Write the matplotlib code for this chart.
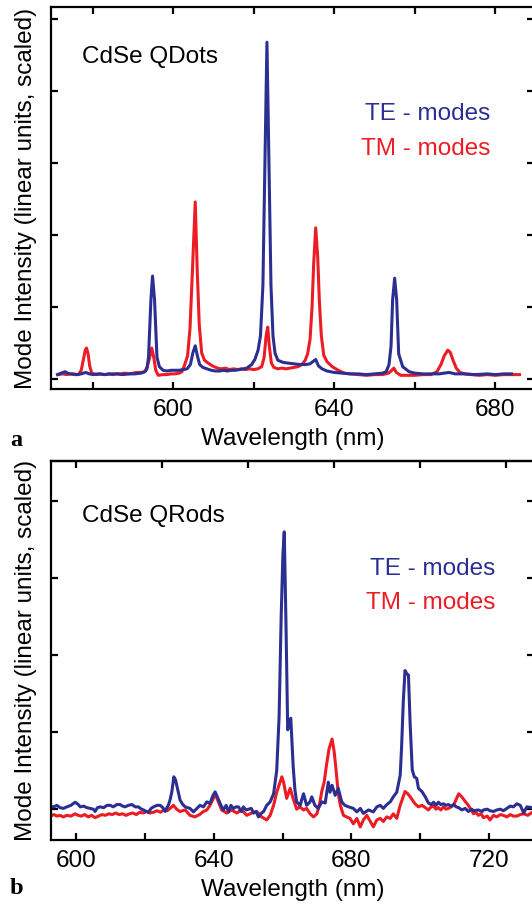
# Whispering-gallery mode spectra of CdSe quantum dots / rods
import matplotlib.pyplot as plt
from matplotlib.ticker import MultipleLocator, NullFormatter

plt.rcParams['font.family'] = ['Liberation Sans', 'DejaVu Sans']

blue = '#2b2f92'
red = '#ec1c24'

# ---- panel a: CdSe QDots ----
qd_te_wl = [571.3, 572.2, 573.2, 574.2, 575.2, 576.2, 577.2, 578.3, 579.2, 580.2, 581.5, 583, 584.5, 586,
            587.5, 589, 590.5, 592, 593.0, 593.5, 593.9, 594.5, 594.9, 595.4, 596.0, 596.6, 597.5, 598.5,
            599.5, 600.5, 601.5, 602.5, 603.5, 604.3, 604.9, 605.5, 606.0, 606.6, 607.4, 608.4, 609.5,
            610.5, 611.5, 612.5, 613.5, 614.5, 615.5, 616.5, 617.5, 618.3, 619.5, 620.3, 621.1, 621.7,
            622.3, 622.8, 623.3, 623.8, 624.3, 624.8, 625.3, 626, 627.3, 628.5, 630, 631.5, 633, 634,
            634.7, 635.4, 636.1, 637, 638.2, 640, 642, 644, 646, 648, 650, 652, 652.9, 653.6, 654.1,
            654.5, 655.0, 655.5, 656.0, 657.0, 658.6, 660, 662, 664, 666, 668.5, 670, 672, 675, 678,
            680, 682, 684]
qd_te = [0.06, 0.08, 0.10, 0.07, 0.07, 0.06, 0.07, 0.09, 0.07, 0.06, 0.07, 0.06, 0.07, 0.07,
         0.06, 0.07, 0.07, 0.08, 0.10, 0.14, 0.30, 1.10, 1.43, 1.10, 0.30, 0.17, 0.12, 0.11,
         0.12, 0.12, 0.12, 0.13, 0.14, 0.20, 0.36, 0.46, 0.33, 0.20, 0.16, 0.14, 0.12,
         0.11, 0.11, 0.12, 0.11, 0.12, 0.12, 0.13, 0.14, 0.15, 0.20, 0.27, 0.40, 0.60,
         1.30, 3.00, 4.68, 3.00, 1.30, 0.60, 0.36, 0.26, 0.23, 0.22, 0.21, 0.20, 0.20, 0.21,
         0.24, 0.27, 0.18, 0.14, 0.11, 0.09, 0.08, 0.07, 0.07, 0.06, 0.07, 0.08, 0.10, 0.20, 0.45,
         1.10, 1.40, 1.10, 0.35, 0.17, 0.10, 0.08, 0.07, 0.07, 0.07, 0.09, 0.07, 0.07, 0.06, 0.07,
         0.06, 0.07, 0.07]

qd_tm_wl = [571.5, 572.5, 573.5, 574.5, 575.5, 576.5, 577.2, 577.7, 578.2, 578.5, 578.9, 579.3, 579.8,
            581, 582, 583, 584, 585, 586, 587, 588, 589, 590, 591, 592, 593, 593.6, 594.2, 594.7,
            595.2, 595.7, 596.3, 597.5, 598.5, 599.5, 600.5, 601.5, 602.2, 602.9, 603.6, 604.2, 604.8,
            605.5, 606.0, 606.5, 607.1, 607.8, 608.7, 609.8, 611, 612, 613, 614, 615, 616, 617, 618,
            619, 620, 621, 622, 622.6, 623.1, 623.5, 623.9, 624.4, 625, 626, 627, 628, 629, 630, 631,
            632, 632.8, 633.4, 634.0, 634.5, 634.9, 635.4, 635.9, 636.3, 636.8, 637.4, 638.2, 639.5,
            641, 642.5, 644, 646, 648, 650, 652, 653.5, 654.3, 654.8, 655.4, 656.5, 658, 660, 662,
            664, 665.5, 666.5, 667.3, 668.2, 668.8, 669.5, 670.3, 671.2, 672.5, 674, 676, 678, 680,
            682, 684, 686]
qd_tm = [0.06, 0.07, 0.06, 0.07, 0.06, 0.06, 0.12, 0.26, 0.40, 0.43, 0.35, 0.18, 0.08,
         0.06, 0.07, 0.06, 0.07, 0.06, 0.07, 0.07, 0.08, 0.07, 0.08, 0.09, 0.09, 0.10, 0.17, 0.30, 0.43,
         0.30, 0.12, 0.05, 0.06, 0.06, 0.07, 0.07, 0.08, 0.10, 0.20, 0.32, 0.70, 1.50,
         2.46, 1.50, 0.75, 0.36, 0.26, 0.22, 0.18, 0.15, 0.14, 0.15, 0.13, 0.14, 0.13, 0.14, 0.13,
         0.14, 0.13, 0.14, 0.17, 0.30, 0.60, 0.72, 0.45, 0.22, 0.16, 0.14, 0.15, 0.14, 0.15, 0.16, 0.17,
         0.20, 0.26, 0.35, 0.55, 1.00, 1.60, 2.10, 1.70, 1.10, 0.60, 0.33, 0.24, 0.17,
         0.12, 0.08, 0.07, 0.06, 0.05, 0.06, 0.06, 0.08, 0.12, 0.15, 0.09, 0.05, 0.05, 0.05, 0.06,
         0.06, 0.10, 0.20, 0.32, 0.40, 0.37, 0.26, 0.15, 0.09, 0.07, 0.06, 0.05, 0.06, 0.05,
         0.06, 0.06, 0.06]

# ---- panel b: CdSe QRods ----
qr_te_wl = [592.6, 593.5, 594.4, 595.3, 596.3, 597.3, 598.5, 599.7, 600.4, 601.2, 602.2, 603.1, 604.1,
            605.0, 605.5, 606.2, 607.0, 608.0, 609.0, 609.9, 610.8, 611.8, 612.8, 613.5, 614.2, 615.2,
            616.2, 617.2, 618.1, 619.0, 619.6, 620.4, 621.0, 621.8, 622.5, 623.5, 624.4, 625.2, 625.9,
            626.4, 626.8, 627.3, 627.8, 628.4, 628.9, 629.4, 630.2, 631.0, 631.7, 632.4, 633.1, 634.1,
            635.1, 636.0, 637.0, 638.0, 638.9, 639.8, 640.4, 641.4, 642.1, 642.8, 643.6, 644.3, 645.0,
            645.7, 646.5, 647.2, 648.0, 648.6, 649.4, 650.1, 650.9, 651.6, 652.3, 653.0, 653.8, 654.5,
            655.4, 656.4, 657.4, 658.3, 659.0, 659.6, 660.1, 660.5, 661.0, 661.5, 662.0, 662.4, 663.1,
            663.6, 664.1, 665.1, 666.1, 667.0, 668.0, 668.5, 669.4, 670.4, 671.4, 672.4, 673.3, 673.8,
            674.4, 675.3, 676.2, 677.2, 678.1, 679.2, 680.6, 681.6, 682.6, 683.5, 685.0, 686.4, 687.4,
            688.4, 689.3, 690.3, 691.3, 692.2, 693.2, 694.2, 694.6, 695.1, 695.6, 696.1, 696.6, 697.1,
            697.7, 698.3, 699.0, 699.5, 700.5, 701.5, 702.4, 703.2, 703.9, 704.6, 705.3, 706.0, 706.8,
            707.5, 708.2, 709.0, 709.7, 710.5, 711.2, 712.1, 713.1, 714.0, 715.0, 715.5, 716.9, 718.0,
            718.4, 719.5, 720.3, 721.3, 722.3, 723.3, 724.2, 725.2, 726.2, 727.1, 728.1, 729.1, 730.1,
            731.0, 732.6]
qr_te = [0.04, 0.03, 0.05, 0.02, 0.01, 0.03, 0.05, 0.09, 0.07, 0.03, 0.04, 0.02, 0.01,
         0.00, -0.03, 0.02, 0.03, 0.02, 0.05, 0.05, 0.03, 0.06, 0.06, 0.04, 0.03, 0.05,
         0.06, 0.03, 0.03, 0.00, -0.01, -0.03, -0.04, 0.01, 0.03, 0.05, 0.05, 0.02, -0.03,
         0.02, 0.05, 0.12, 0.22, 0.42, 0.38, 0.28, 0.12, 0.06, 0.03, 0.02, 0.01, -0.035,
         0.01, 0.05, 0.03, 0.095, 0.075, 0.18, 0.225, 0.12, 0.05, -0.01, 0.05, -0.035, 0.05,
         0.01, 0.03, 0.03, -0.03, 0.03, -0.01, 0.00, 0.01, -0.05, -0.03, -0.10, -0.055, -0.03,
         0.05, 0.095, 0.20, 0.50, 1.20, 2.50, 3.30, 3.60, 2.40, 1.03, 1.15, 1.18, 0.55,
         0.25, 0.095, 0.05, 0.20, 0.05, 0.095, 0.16, 0.05, 0.01, 0.095, 0.08, 0.35, 0.22,
         0.31, 0.18, 0.27, 0.095, 0.05, 0.03, 0.01, -0.035, 0.01, -0.055, -0.01, -0.035, 0.03,
         0.05, 0.01, 0.06, 0.095, 0.16, 0.22, 0.44, 0.80, 1.40, 1.80, 1.76, 1.74, 1.10,
         0.51, 0.42, 0.40, 0.27, 0.23, 0.16, 0.08, 0.06, 0.09, 0.05, 0.09, 0.06, 0.07,
         0.05, 0.06, 0.04, 0.06, 0.03, 0.02, -0.01, 0.01, -0.03, 0.00, -0.02, -0.01, -0.03,
         -0.01, 0.00, -0.02, -0.03, -0.01, 0.00, -0.02, 0.01, 0.04, 0.03, 0.07, 0.05, -0.05,
         0.03, 0.02]

qr_tm_wl = [592.6, 593.5, 594.4, 595.3, 596.3, 597.3, 598.5, 599.7, 600.6, 601.5, 602.5, 603.5, 604.5,
            605.5, 606.5, 607.5, 608.5, 609.5, 610.5, 611.5, 612.5, 613.5, 614.5, 615.5, 616.5, 617.5,
            618.5, 619.5, 620.5, 621.5, 622.5, 623.5, 624.5, 625.5, 626.5, 627.3, 628.3, 629.2, 630.2,
            631.7, 633.1, 634.5, 635.9, 637.0, 638.0, 638.9, 639.9, 640.4, 641.4, 642.3, 643.8, 645.2,
            646.7, 648.1, 649.6, 651.0, 652.5, 653.9, 655.4, 656.4, 657.4, 658.3, 659.8, 660.3, 661.2,
            662.2, 663.2, 664.1, 665.0, 666.1, 667.0, 668.0, 669.0, 670.0, 670.8, 671.5, 672.1, 672.7,
            673.5, 674.4, 675.0, 675.6, 676.2, 676.8, 677.7, 678.6, 679.6, 680.6, 681.6, 682.6, 683.5,
            684.5, 685.5, 686.4, 687.4, 688.4, 689.3, 690.3, 691.3, 692.2, 693.2, 694.2, 695.6, 696.4,
            697.1, 698.5, 699.5, 700.5, 701.5, 702.4, 703.2, 703.9, 704.6, 705.3, 706.0, 706.8, 707.5,
            708.2, 709.0, 709.7, 710.5, 711.2, 712.1, 713.1, 714.0, 715.0, 715.5, 716.2, 716.9, 717.7,
            718.4, 719.5, 720.3, 721.3, 722.3, 723.3, 724.2, 725.2, 726.2, 727.1, 728.1, 729.1, 730.1,
            731.3, 732.6]
qr_tm = [-0.09, -0.07, -0.09, -0.08, -0.10, -0.08, -0.09, -0.06, -0.08, -0.09, -0.07, -0.10, -0.08,
         -0.11, -0.09, -0.07, -0.08, -0.06, -0.07, -0.05, -0.07, -0.06, -0.08, -0.06, -0.05, -0.07,
         -0.04, -0.05, -0.03, -0.05, -0.04, -0.02, -0.04, -0.01, -0.02, 0.01, 0.05, 0.00, -0.03,
         -0.01, -0.08, -0.10, -0.07, -0.03, -0.01, 0.05, 0.14, 0.20, 0.09, -0.01, -0.05, -0.01,
         -0.05, -0.01, -0.08, -0.05, -0.03, -0.10, -0.14, -0.08, 0.05, 0.22, 0.42, 0.35, 0.14,
         0.27, 0.12, 0.00, 0.03, -0.01, 0.01, -0.06, -0.10, -0.06, 0.08, 0.25, 0.35, 0.55,
         0.78, 0.91, 0.75, 0.49, 0.20, 0.05, -0.08, -0.10, -0.12, -0.19, -0.12, -0.23, -0.14,
         -0.08, -0.16, -0.23, -0.14, -0.12, -0.16, -0.10, -0.12, -0.06, -0.12, 0.05, 0.23, 0.20,
         0.16, 0.07, 0.03, 0.05, 0.02, -0.01, 0.03, 0.04, 0.00, 0.02, -0.01, 0.03, 0.00,
         0.01, 0.03, 0.05, 0.13, 0.20, 0.16, 0.10, 0.05, -0.02, -0.06, -0.04, -0.08, -0.06,
         -0.11, -0.09, -0.14, -0.08, -0.10, -0.07, -0.08, -0.10, -0.07, -0.09, -0.09, -0.07, -0.06,
         -0.08, -0.04]

fig = plt.figure(figsize=(5.32, 9.08), dpi=100)
ax1 = fig.add_axes([0.0959, 0.5716, 0.9079, 0.4207])
ax2 = fig.add_axes([0.0959, 0.0749, 0.9079, 0.4174])

ylabel = 'Mode Intensity (linear units, scaled)'
fs = 17.5

for ax in (ax1, ax2):
    for s in ax.spines.values():
        s.set_linewidth(1.6)
    ax.tick_params(which='both', direction='in', top=True, right=True, length=5,
                   width=1.6, labelsize=fs, pad=7)
    ax.yaxis.set_major_locator(MultipleLocator(1))
    ax.yaxis.set_major_formatter(NullFormatter())
    ax.xaxis.set_major_locator(MultipleLocator(40))
    ax.xaxis.set_minor_locator(MultipleLocator(20))
    ax.set_xlabel('Wavelength (nm)', fontsize=fs, labelpad=5)
    ax.set_ylabel(ylabel, fontsize=fs, labelpad=3)

# panel a
ax1.plot(qd_tm_wl, qd_tm, color=red, lw=2.2, solid_joinstyle='round')
ax1.plot(qd_te_wl, qd_te, color=blue, lw=2.2, solid_joinstyle='round')
ax1.set_xlim(569.7, 689.6)
ax1.set_ylim(-0.14, 5.17)
ax1.text(0.065, 0.869, 'CdSe QDots', transform=ax1.transAxes, fontsize=fs, va='center')
ax1.text(0.91, 0.721, 'TE - modes', transform=ax1.transAxes, fontsize=fs, color=blue,
         ha='right', va='center')
ax1.text(0.91, 0.627, 'TM - modes', transform=ax1.transAxes, fontsize=fs, color=red,
         ha='right', va='center')

# panel b: top axis carries its own 25 nm ticks
ax2.tick_params(which='both', top=False)
top2 = ax2.secondary_xaxis('top')
top2.xaxis.set_major_locator(MultipleLocator(25))
top2.tick_params(direction='in', length=5, width=1.6, labeltop=False)
top2.spines['top'].set_linewidth(1.6)
ax2.plot(qr_tm_wl, qr_tm, color=red, lw=2.2, solid_joinstyle='round')
ax2.plot(qr_te_wl, qr_te, color=blue, lw=2.2, solid_joinstyle='round')
ax2.set_xlim(592.7, 733.1)
ax2.set_ylim(-0.40, 4.52)
ax2.text(0.065, 0.855, 'CdSe QRods', transform=ax2.transAxes, fontsize=fs, va='center')
ax2.text(0.92, 0.714, 'TE - modes', transform=ax2.transAxes, fontsize=fs, color=blue,
         ha='right', va='center')
ax2.text(0.92, 0.625, 'TM - modes', transform=ax2.transAxes, fontsize=fs, color=red,
         ha='right', va='center')

# panel letters
fig.text(0.019, 1 - 440 / 908, 'a', fontsize=fs, fontweight='bold',
         family='Liberation Serif', va='center')
fig.text(0.019, 1 - 888 / 908, 'b', fontsize=fs, fontweight='bold',
         family='Liberation Serif', va='center')

fig.savefig('out.png', dpi=100)
